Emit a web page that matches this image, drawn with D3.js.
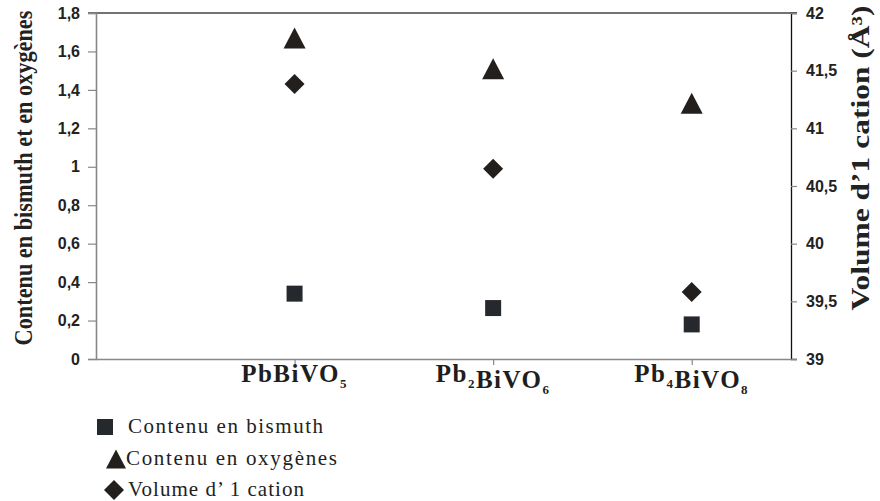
<!DOCTYPE html>
<html>
<head>
<meta charset="utf-8">
<script src="https://cdn.jsdelivr.net/npm/d3@7"></script>
<style>
  body { margin: 0; background: #fff; }
  svg { display: block; }
  .tick text { font-family: "Liberation Sans", Arial, sans-serif; font-weight: bold; font-size: 16px; fill: #222; }
</style>
</head>
<body>
<div id="chart"></div>
<script>
// compounds on the x axis (formula base parts + subscripts)
const compounds = [
  [["Pb", ""], ["Bi", ""], ["VO", "5"]],
  [["Pb", "2"], ["BiVO", "6"]],
  [["Pb", "4"], ["BiVO", "8"]]
];
const bismuth = [0.34, 0.265, 0.18];
const oxygen = [1.67, 1.51, 1.33];
const volume = [41.385, 40.65, 39.58];
const leftTicks = [0, 0.2, 0.4, 0.6, 0.8, 1, 1.2, 1.4, 1.6, 1.8];
const rightTicks = [39, 39.5, 40, 40.5, 41, 41.5, 42];
const legendLabels = ["Contenu en bismuth", "Contenu en oxygènes", "Volume d\u2019 1 cation"];

const W = 880, H = 501;
const margin = {top: 13, bottom: 142, left: 96, right: 89};
const width = W - margin.left - margin.right;
const height = H - margin.top - margin.bottom;

const svg = d3.select("#chart").append("svg")
  .attr("width", W).attr("height", H);

const g = svg.append("g")
  .attr("transform", "translate(" + margin.left + "," + margin.top + ")");

// category positions 1..3 on a 0..3.5 range
const x = d3.scaleLinear().domain([0, 3.5]).range([0, width]);
const yL = d3.scaleLinear().domain([0, 1.8]).range([height, 0]);
const yR = d3.scaleLinear().domain([39, 42]).range([height, 0]);

const fmt = d => String(d).replace(".", ",");

// top border
g.append("line")
  .attr("x1", -8).attr("x2", width + 6)
  .attr("y1", 0).attr("y2", 0)
  .attr("stroke", "#444").attr("stroke-width", 1.3);

// left axis
const axL = g.append("g")
  .call(d3.axisLeft(yL).tickValues(leftTicks).tickFormat(fmt).tickSize(8).tickPadding(8));
axL.select(".domain").attr("stroke", "#888").attr("stroke-width", 1.6);
axL.selectAll(".tick line").attr("stroke", "#888").attr("stroke-width", 1.2);

// right axis
const axR = g.append("g")
  .attr("transform", "translate(" + width + ",0)")
  .call(d3.axisRight(yR).tickValues(rightTicks).tickFormat(fmt).tickSize(6).tickPadding(9));
axR.select(".domain").attr("stroke", "#111").attr("stroke-width", 1.3);
axR.selectAll(".tick line").attr("stroke", "#888").attr("stroke-width", 1.2);

// bottom axis
const axB = g.append("g")
  .attr("transform", "translate(0," + height + ")")
  .call(d3.axisBottom(x).tickValues([1, 2, 3]).tickFormat("").tickSize(6).tickSizeOuter(0));
axB.select(".domain").attr("stroke", "#888").attr("stroke-width", 1.6);
axB.selectAll(".tick line").attr("stroke", "#888").attr("stroke-width", 1.2);

// x labels with subscripts
compounds.forEach(function(parts, i) {
  const t = g.append("text")
    .attr("x", x(i + 1))
    .attr("y", height + 23)
    .attr("text-anchor", "middle")
    .style("font-family", "'Liberation Serif', 'Times New Roman', serif")
    .style("font-weight", "bold")
    .style("font-size", "25px")
    .style("letter-spacing", "1.5px")
    .attr("fill", "#1e1e1e");
  parts.forEach(function(p) {
    t.append("tspan").text(p[0]);
    if (p[1]) {
      t.append("tspan").attr("dy", 6).style("font-size", "13px").text(p[1]);
      t.append("tspan").attr("dy", -6).text("");
    }
  });
});

// marker shapes
const fill = "#231f1c";
function tri(w, h) {
  return "M0," + (-h / 2) + "L" + (w / 2) + "," + (h / 2) + "L" + (-w / 2) + "," + (h / 2) + "Z";
}
const squareSym = d3.symbol().type(d3.symbolSquare).size(256);
const diamondSym = d3.symbol().type(d3.symbolSquare).size(200);

g.selectAll(".sq").data(bismuth).enter().append("path")
  .attr("class", "sq")
  .attr("d", squareSym())
  .attr("transform", (d, i) => "translate(" + x(i + 1) + "," + yL(d) + ")")
  .attr("fill", "#25292e");

g.selectAll(".tri").data(oxygen).enter().append("path")
  .attr("class", "tri")
  .attr("d", tri(22, 21))
  .attr("transform", (d, i) => "translate(" + x(i + 1) + "," + yL(d) + ")")
  .attr("fill", fill);

g.selectAll(".dia").data(volume).enter().append("path")
  .attr("class", "dia")
  .attr("d", diamondSym())
  .attr("transform", (d, i) => "translate(" + x(i + 1) + "," + yR(d) + ") rotate(45)")
  .attr("fill", fill);

// axis titles: condensed serif, squeezed to the reference length
function vTitle(txt, cx, cy, size, len) {
  const t = svg.append("text")
    .attr("text-anchor", "middle")
    .style("font-family", "'Liberation Serif', 'Times New Roman', serif")
    .style("font-weight", "bold")
    .style("font-size", size + "px")
    .attr("fill", "#222")
    .text(txt);
  const k = len / t.node().getComputedTextLength();
  t.attr("transform", "translate(" + cx + "," + cy + ") rotate(-90) scale(" + k + ",1)");
}
vTitle("Contenu en bismuth et en oxygènes", 32, 178, 26, 335);
vTitle("Volume d\u20191 cation (Å³)", 869, 158, 25, 305);

// legend
const legend = svg.append("g");
const legY = [427, 459, 490];
legend.append("path").attr("d", squareSym())
  .attr("transform", "translate(105," + legY[0] + ")").attr("fill", "#25292e");
legend.append("path").attr("d", tri(20, 19))
  .attr("transform", "translate(116," + legY[1] + ")").attr("fill", fill);
legend.append("path").attr("d", diamondSym())
  .attr("transform", "translate(114," + legY[2] + ") rotate(45)").attr("fill", fill);
const legX = [128, 126, 128];
const legLen = [195, 211, 176];
legendLabels.forEach(function(l, i) {
  legend.append("text")
    .attr("x", legX[i]).attr("y", legY[i] + 6)
    .style("font-family", "'Liberation Serif', 'Times New Roman', serif")
    .style("font-size", "21px")
    .attr("textLength", legLen[i])
    .attr("lengthAdjust", "spacing")
    .attr("fill", "#222")
    .text(l);
});
</script>
</body>
</html>
